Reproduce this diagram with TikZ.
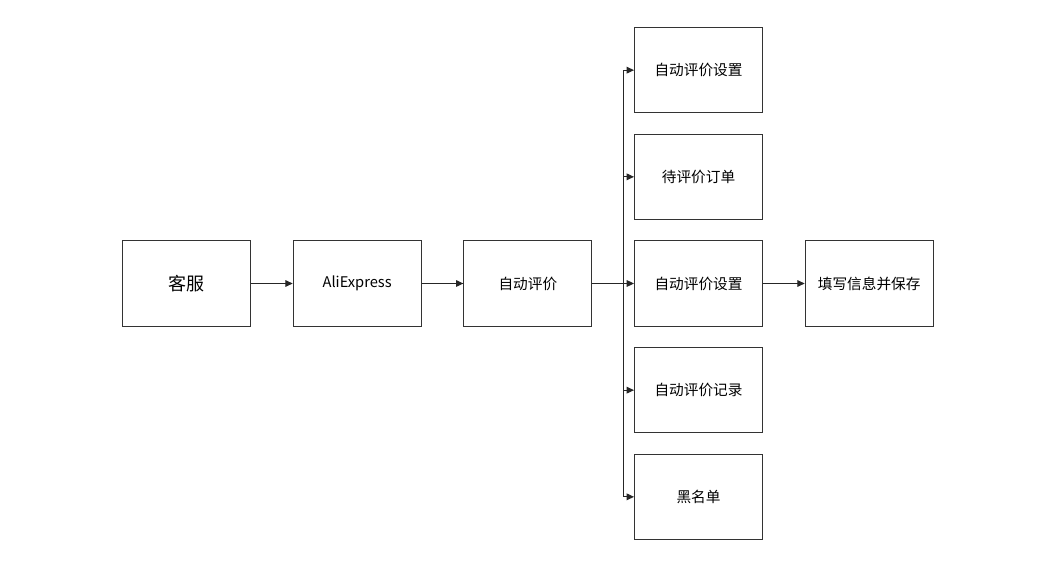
\documentclass[tikz,border=0pt]{standalone}
\usepackage{fontspec}
\setmainfont{Noto Sans CJK SC}
\usetikzlibrary{positioning,arrows.meta}

\begin{document}
\begin{tikzpicture}[x=0.75pt,y=-0.75pt,
        box/.style={draw=black!80,line width=0.75pt,minimum width=96pt,minimum height=64pt,font=\fontsize{11}{13}\selectfont},
        arr/.style={draw=black!85,line width=0.75pt,-{Triangle[length=5.5pt,width=5pt]}}]
    \useasboundingbox[fill=white] (0,0) rectangle (1062,584);

    \node[box,font=\fontsize{13.5}{16}\selectfont] (kefu) at (186.5,283.5) {客服};
    \node[box,right=31.25pt of kefu] (ali) {AliExpress};
    \node[box,right=31.25pt of ali] (auto) {自动评价};

    % second column
    \node[box,right=31.25pt of auto] (set) {自动评价设置};
    \node[box,above=15.25pt of set] (pending) {待评价订单};
    \node[box,above=15.25pt of pending] (settop) {自动评价设置};
    \node[box,below=15.25pt of set] (record) {自动评价记录};
    \node[box,below=15.25pt of record] (black) {黑名单};

    \node[box,right=31.25pt of set] (save) {填写信息并保存};

    \draw[arr] (kefu) -- (ali);
    \draw[arr] (ali) -- (auto);
    \coordinate[right=23pt of auto.east] (fork);
    \foreach \n in {settop,pending,set,record,black}
        \draw[arr] (auto.east) -- (fork) |- (\n.west);
    \draw[arr] (set) -- (save);
\end{tikzpicture}
\end{document}
